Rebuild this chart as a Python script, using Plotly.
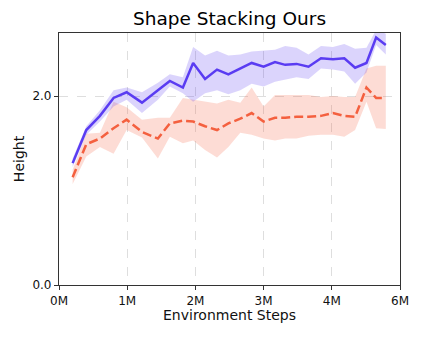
import plotly.graph_objects as go

# environment steps (millions)
steps = [0.24, 0.48, 0.72, 0.96, 1.19, 1.46, 1.74, 1.95, 2.18, 2.36, 2.57, 2.78, 2.98, 3.19,
         3.39, 3.60, 3.80, 3.98, 4.18, 4.39, 4.61, 4.82, 5.02, 5.21, 5.41, 5.58, 5.75]

ours_mean = [1.29, 1.64, 1.79, 1.98, 2.04, 1.93, 2.06, 2.16, 2.09, 2.35, 2.18, 2.28, 2.23, 2.29,
             2.35, 2.31, 2.36, 2.33, 2.34, 2.31, 2.40, 2.39, 2.40, 2.30, 2.35, 2.62, 2.54]
ours_hi = [1.34, 1.68, 1.85, 2.06, 2.09, 2.04, 2.14, 2.23, 2.20, 2.52, 2.43, 2.48, 2.43, 2.44,
           2.47, 2.48, 2.49, 2.53, 2.51, 2.44, 2.53, 2.52, 2.55, 2.50, 2.51, 2.70, 2.66]
ours_lo = [1.25, 1.59, 1.73, 1.89, 1.96, 1.82, 1.96, 2.10, 2.03, 1.94, 2.03, 2.06, 2.02, 2.06,
           2.13, 2.10, 2.15, 2.17, 2.20, 2.18, 2.29, 2.28, 2.26, 2.13, 2.25, 2.54, 2.44]

base_mean = [1.14, 1.49, 1.55, 1.66, 1.75, 1.62, 1.55, 1.71, 1.74, 1.73, 1.68, 1.64, 1.71, 1.76,
             1.82, 1.73, 1.77, 1.77, 1.78, 1.78, 1.79, 1.82, 1.79, 1.78, 2.09, 1.98, 1.98]
base_hi = [1.22, 1.60, 1.61, 1.94, 1.88, 1.75, 1.77, 1.77, 1.98, 1.96, 1.94, 1.92, 1.96, 1.93,
           2.09, 1.89, 2.01, 2.01, 2.01, 2.01, 1.99, 2.00, 1.99, 1.99, 2.29, 2.32, 2.32]
base_lo = [1.07, 1.36, 1.46, 1.39, 1.64, 1.56, 1.34, 1.57, 1.50, 1.53, 1.43, 1.35, 1.46, 1.61,
           1.59, 1.55, 1.53, 1.55, 1.55, 1.58, 1.59, 1.59, 1.57, 1.64, 1.94, 1.66, 1.65]

tick_vals = [0, 1.2, 2.4, 3.6, 4.8, 6.0]
tick_text = ['0M', '1M', '2M', '3M', '4M', '6M']

BLUE = '#5a3cf2'
RED = '#f4603f'

fig = go.Figure()

# shaded bands
fig.add_trace(go.Scatter(x=steps + steps[::-1], y=base_hi + base_lo[::-1], fill='toself',
                         fillcolor='rgba(244,96,63,0.22)', line=dict(width=0),
                         hoverinfo='skip', showlegend=False))
fig.add_trace(go.Scatter(x=steps + steps[::-1], y=ours_hi + ours_lo[::-1], fill='toself',
                         fillcolor='rgba(90,60,242,0.22)', line=dict(width=0),
                         hoverinfo='skip', showlegend=False))

fig.add_trace(go.Scatter(x=steps, y=base_mean, mode='lines',
                         line=dict(color=RED, width=2.5, dash='9px,4px'), showlegend=False))
fig.add_trace(go.Scatter(x=steps, y=ours_mean, mode='lines',
                         line=dict(color=BLUE, width=2.5), showlegend=False))

# page body has an 8px margin, so the figure is a bit smaller than the window
axis_font = dict(family='DejaVu Sans', size=12, color='#111111')
fig.update_layout(
    width=414, height=330,
    margin=dict(l=51, r=22, t=25, b=53),
    paper_bgcolor='white', plot_bgcolor='white',
    font=dict(family='DejaVu Sans', color='#111111'),
    title=dict(text='Shape Stacking Ours', x=0.5, xanchor='center', xref='paper',
               y=0.968, yanchor='middle', font=dict(size=18.5, color='black')),
)
fig.update_xaxes(
    range=[0, 6], tickvals=tick_vals, ticktext=tick_text, tickfont=axis_font,
    showline=True, linecolor='#333333', linewidth=1.2, mirror=True,
    ticks='outside', ticklen=4, tickcolor='#333333', automargin=False,
    showgrid=True, gridcolor='#dedede', griddash='dash', gridwidth=1, zeroline=False,
    title=dict(text='Environment Steps', font=dict(size=14, color='#111111'), standoff=0),
)
fig.update_yaxes(
    range=[0, 2.667], tickvals=[0, 2], ticktext=['0.0', '2.0'], tickfont=axis_font,
    showline=True, linecolor='#333333', linewidth=1.2, mirror=True,
    ticks='outside', ticklen=4, tickcolor='#333333', automargin=False,
    showgrid=True, gridcolor='#dedede', griddash='dash', gridwidth=1, zeroline=False,
    title=dict(text='Height', font=dict(size=14, color='#111111'), standoff=4),
)

fig.write_html("out.html")
